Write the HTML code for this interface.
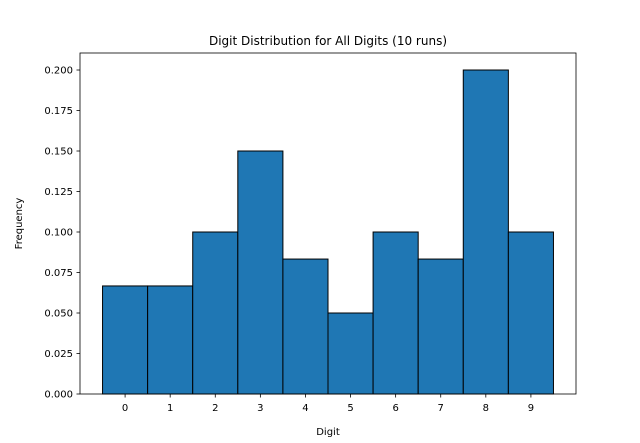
<!DOCTYPE html>
<html><head><meta charset="utf-8"><style>body{margin:0;background:#fff}svg{display:block;font-family:"DejaVu Sans","Liberation Sans",sans-serif}</style></head>
<body>
<svg id="c" width="640" height="443"></svg>
<script>
const categories=[0,1,2,3,4,5,6,7,8,9];
const frequencies=[0.0667,0.0667,0.1,0.15,0.0833,0.05,0.1,0.0833,0.2,0.1];
const yTicks=[0,0.025,0.05,0.075,0.1,0.125,0.15,0.175,0.2];
const yTickLabels=["0.000","0.025","0.050","0.075","0.100","0.125","0.150","0.175","0.200"];
const L=80,R=576,T=53,B=394,xmin=-1,xmax=10,ymin=0,ymax=0.2105;
const sx=v=>L+(v-xmin)/(xmax-xmin)*(R-L);
const sy=v=>B-(v-ymin)/(ymax-ymin)*(B-T);
const svg=document.getElementById('c');const NS='http://www.w3.org/2000/svg';
function mk(t,a,txt){const e=document.createElementNS(NS,t);for(const k in a)e.setAttribute(k,a[k]);if(txt!=null)e.textContent=txt;svg.appendChild(e);return e;}
categories.forEach((c,i)=>{const x0=sx(c-0.5),x1=sx(c+0.5),y=sy(frequencies[i]);
const r=mk('rect',{x:x0,y:y,width:x1-x0,height:B-y,fill:'#1f77b4',stroke:'#000','stroke-width':1});

});
const ax=mk('rect',{x:L,y:T,width:R-L,height:B-T,fill:'none',stroke:'#000','stroke-width':0.8});


categories.forEach(c=>{const x=sx(c);mk('line',{x1:x,x2:x,y1:B,y2:B+3.5,stroke:'#000','stroke-width':0.8});
const t=mk('text',{x:x,y:B+17,'font-size':10,'text-anchor':'middle'},String(c));

});
yTicks.forEach((v,i)=>{const y=sy(v);mk('line',{x1:L-3.5,x2:L,y1:y,y2:y,stroke:'#000','stroke-width':0.8});
const t=mk('text',{x:L-7,y:y+3.5,'font-size':10,'text-anchor':'end'},yTickLabels[i]);

});
let t=mk('text',{x:(L+R)/2,y:45,'font-size':12,'text-anchor':'middle'},'Digit Distribution for All Digits (10 runs)');


t=mk('text',{x:(L+R)/2,y:435,'font-size':10,'text-anchor':'middle'},'Digit');


t=mk('text',{x:22,y:(T+B)/2,'font-size':10,'text-anchor':'middle',transform:'rotate(-90 22 '+((T+B)/2)+')'},'Frequency');


</script>
</body></html>
